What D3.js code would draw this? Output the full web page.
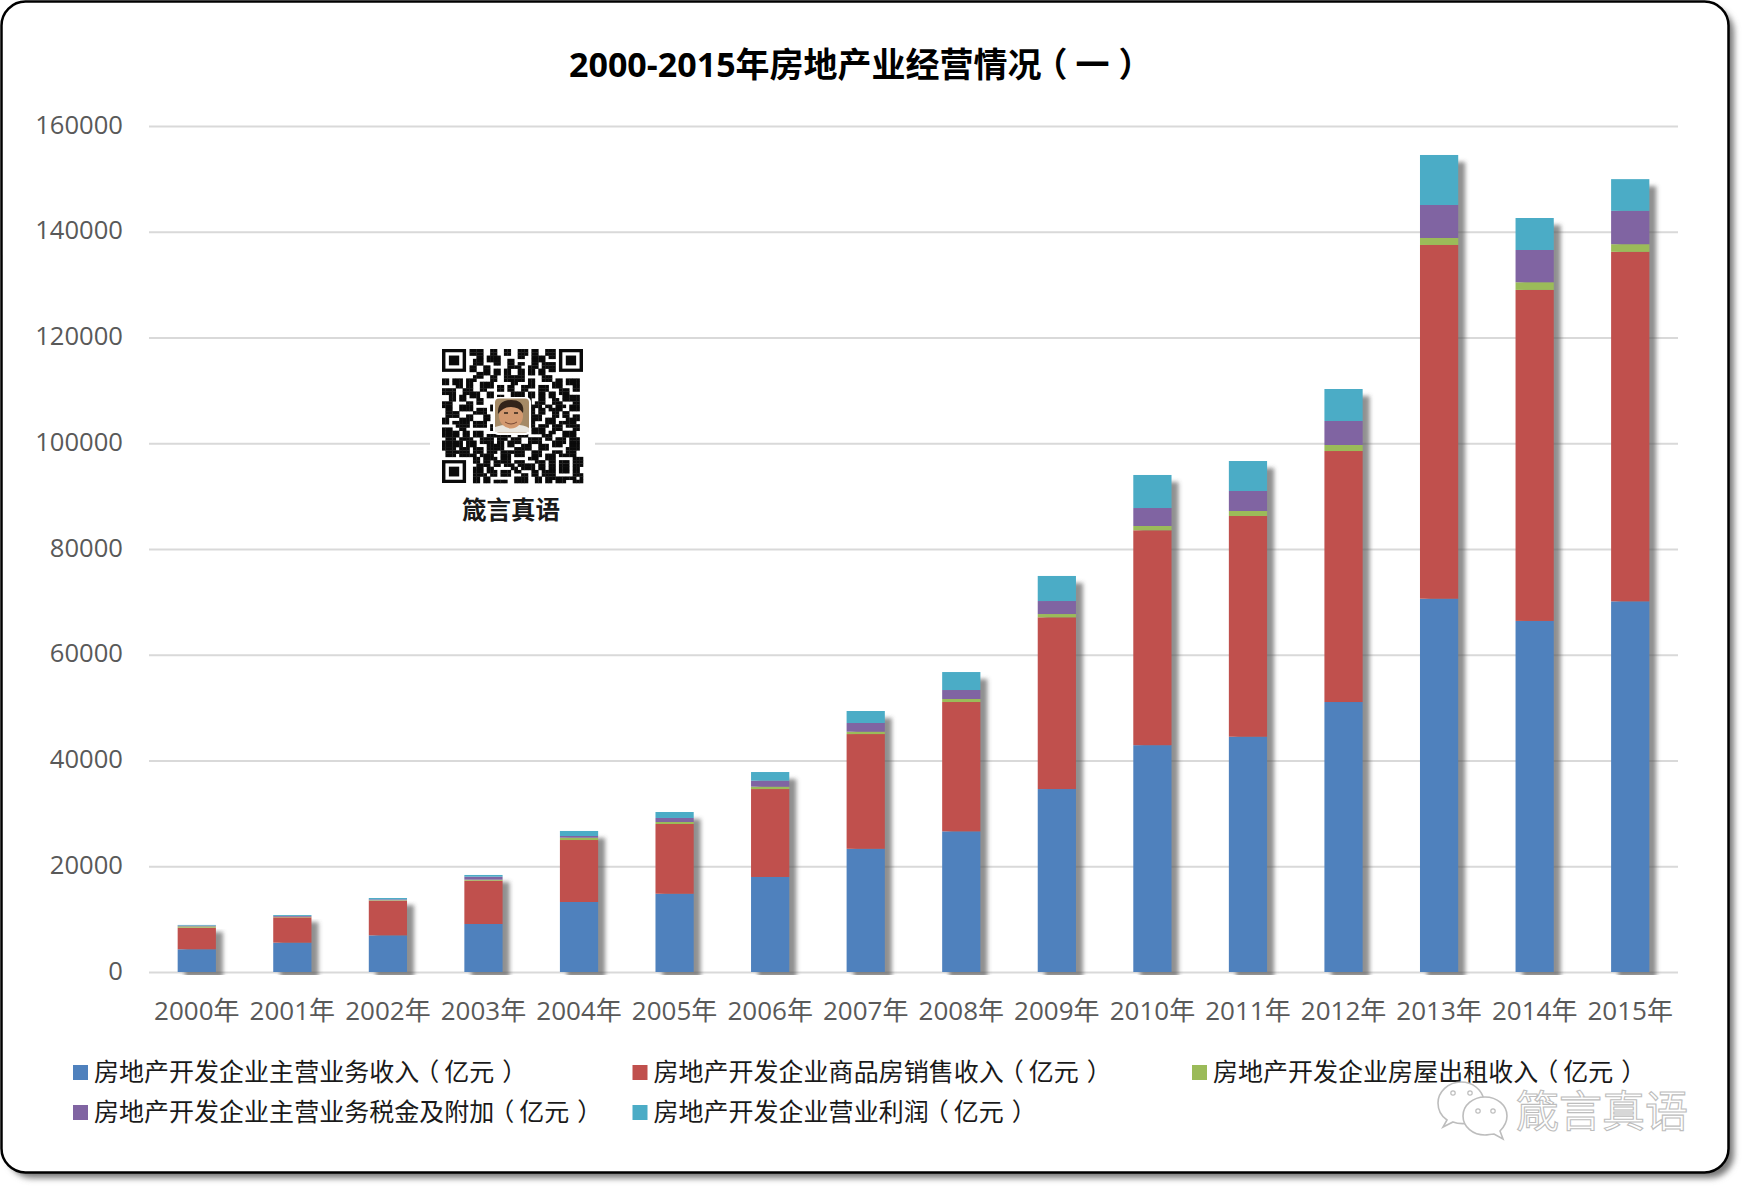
<!DOCTYPE html>
<html>
<head>
<meta charset="utf-8">
<script src="https://cdn.jsdelivr.net/npm/d3@7/dist/d3.min.js"></script>
<style>
  html, body { margin: 0; background: #fff; }
  svg { display: block; }
  text { font-family: "Open Sans", "Noto Sans CJK SC", sans-serif; }
</style>
</head>
<body>
<svg id="chart" width="1744" height="1188"></svg>
<script>
// values (亿元)
var years = ['2000年','2001年','2002年','2003年','2004年','2005年','2006年','2007年','2008年','2009年','2010年','2011年','2012年','2013年','2014年','2015年'];
var income = [4300,5550,6930,9080,13240,14800,17970,23300,26600,34600,42900,44500,51060,70600,66400,70100];
var sales = [4080,4790,6560,8190,11720,13190,16630,21700,24460,32480,40640,41740,47470,66900,62600,66100];
var rent = [250,100,100,190,440,380,450,450,570,620,810,950,1140,1320,1450,1450];
var tax = [150,170,150,570,320,760,1130,1640,1700,2460,3400,3780,4540,6240,6100,6300];
var profit = [120,170,250,320,950,1130,1640,2270,3400,4740,6250,5670,6050,9460,6050,6000];
var yTicks = [0,20000,40000,60000,80000,100000,120000,140000,160000];

var seriesNames = ['房地产开发企业主营业务收入（亿元）','房地产开发企业商品房销售收入（亿元）','房地产开发企业房屋出租收入（亿元）','房地产开发企业主营业务税金及附加（亿元）','房地产开发企业营业利润（亿元）'];
var seriesColors = ['#4f81bd','#c0504d','#9bbb59','#8064a2','#4bacc6'];
var seriesValues = [income, sales, rent, tax, profit];

var title = '2000-2015年房地产业经营情况（一）';
var qrCaption = '箴言真语';

// rough copy of the code in the picture, finders are drawn separately
var qrRows = [
  '........####..##..##..###.##..###........',
  '........####..##..##..###.##..###........',
  '..........##.####.....##..####.##........',
  '.........###.####..##.....####...........',
  '.........###...##..##.##..##.####........',
  '........##..##.....####..###.####........',
  '........##..##.##.##..##.##.##.##........',
  '..........####.##.##..##.##.##...........',
  '.........###..##..######.....###.........',
  '##.###.###....##..######.##..###.##.####.',
  '##.###.##..####.....##...##.....###.####.',
  '....##.##..####.##.##..####.###.###...##.',
  '####..###..##...##.##..##...###...###.##.',
  '####..#####..##.....####.##.##.##.###....',
  '..##.##.###..##.##..####.##.##.##..#####.',
  '..##.##...##...........###..##..##.#####.',
  '###....##.##...........###.###..###...##.',
  '###..####.....##.........####.##.###.###.',
  '.##..####.###.##.........##.##.####..###.',
  '.####....####............##.##..##.##....',
  '.####..##...##...........####...##.##.##.',
  '##...####...##...........####.###...####.',
  '##.#####.####............##...###.#####..',
  '....####.####.##.........##.###.###.####.',
  '###..##.......##..........####..###...##.',
  '#####.##.###.....####.###.####.##..####..',
  '#####.##.###.#######..###....###...####..',
  '.###.####..####.###.###..####.##.###.###.',
  '######.###.####.##.####..####...####.###.',
  '######.###...#####.##..###..###.###..###.',
  '####.###.###.#####...#####..###.....####.',
  '.#######.###.###.#######..###...###.###..',
  '.###.#####.####..###.###..###.###.#####..',
  '.........##.####.###.....###..###.....###',
  '.........##.##.#####.###...###.##.###.###',
  '..........####.##.###.#####.##.##.###.###',
  '.........###.##.....##.####.##.##.###.##.',
  '.........###.###.###.##...##.####.###.##.',
  '.........####.##.###...##.##.####.....###',
  '.........##.##.......####..##.#########.#',
  '.........##.##.####..####..##.##.###..###'
];

var svg = d3.select('#chart');
var defs = svg.append('defs');

defs.append('filter').attr('id', 'cardShadow')
    .attr('x', '-2%').attr('y', '-2%').attr('width', '104%').attr('height', '104%')
    .append('feGaussianBlur').attr('stdDeviation', 3);
defs.append('filter').attr('id', 'barShadow')
    .attr('x', '-40%').attr('y', '-5%').attr('width', '180%').attr('height', '110%')
    .append('feGaussianBlur').attr('stdDeviation', 2);
defs.append('clipPath').attr('id', 'plotClip')
    .append('rect').attr('x', 0).attr('y', 0).attr('width', 1744).attr('height', 975);

// card
svg.append('rect')
    .attr('x', 8).attr('y', 8).attr('width', 1726).attr('height', 1170).attr('rx', 24)
    .attr('fill', '#777').attr('filter', 'url(#cardShadow)');
svg.append('rect')
    .attr('x', 1.5).attr('y', 1.5).attr('width', 1727).attr('height', 1171).attr('rx', 24)
    .attr('fill', '#fff').attr('stroke', '#000').attr('stroke-width', 2.5);

// fullwidth parens sit more centred in the original font, per character dx nudges them
function parenDx(str, shift, gap) {
    var open = str.lastIndexOf('（'), close = str.lastIndexOf('）');
    return str.split('').map(function(ch, i) {
        if (i == open) return -shift;
        if (i == open + 1) return shift;
        if (i == close) return gap;
        return 0;
    }).join(' ');
}

svg.append('text')
    .attr('x', 569).attr('y', 77)
    .attr('dx', parenDx(title, 8, 9))
    .attr('font-size', 34).attr('font-weight', 700).attr('fill', '#000')
    .text(title);

var margin = {top: 126, right: 1678, bottom: 972, left: 149};

var x = d3.scaleBand()
    .domain(years)
    .range([margin.left, margin.right])
    .paddingInner(0.6)
    .paddingOuter(0.3);

var y = d3.scaleLinear()
    .domain([0, 160000])
    .range([margin.bottom, margin.top]);

// gridlines and value labels
var yAxis = svg.append('g')
    .attr('transform', 'translate(' + margin.left + ',0)')
    .call(d3.axisLeft(y).tickValues(yTicks).tickFormat(d3.format('d')).tickSize(-(margin.right - margin.left)).tickPadding(26));
yAxis.select('.domain').remove();
yAxis.selectAll('line').attr('stroke', '#d9d9d9').attr('stroke-width', 2);
yAxis.selectAll('text')
    .attr('font-size', 25.6).attr('fill', '#595959')
    .attr('dy', '0.28em');

var xAxis = svg.append('g')
    .attr('transform', 'translate(0,' + margin.bottom + ')')
    .call(d3.axisBottom(x).tickSize(0).tickPadding(30));
xAxis.select('.domain').remove();
xAxis.selectAll('text')
    .attr('font-size', 26).attr('fill', '#595959');

// stacked bars
var rows = years.map(function(year, i) {
    var row = {year: year};
    seriesNames.forEach(function(name, s) { row[name] = seriesValues[s][i]; });
    return row;
});
var stacked = d3.stack().keys(seriesNames)(rows);

// shadow goes under the bars but above the gridlines
svg.append('g')
    .attr('clip-path', 'url(#plotClip)')
    .selectAll('rect')
    .data(rows)
    .join('rect')
    .attr('x', function(d) { return x(d.year) + 7; })
    .attr('y', function(d, i) { return y(stacked[4][i][1]) + 7; })
    .attr('width', x.bandwidth())
    .attr('height', function(d, i) { return y(0) - y(stacked[4][i][1]); })
    .attr('fill', '#555')
    .attr('fill-opacity', 0.65)
    .attr('filter', 'url(#barShadow)');

svg.append('g')
    .selectAll('g')
    .data(stacked)
    .join('g')
    .attr('fill', function(d, i) { return seriesColors[i]; })
    .selectAll('rect')
    .data(function(d) { return d; })
    .join('rect')
    .attr('x', function(d) { return x(d.data.year); })
    .attr('y', function(d) { return y(d[1]); })
    .attr('width', x.bandwidth())
    .attr('height', function(d) { return y(d[0]) - y(d[1]); });

// legend
var legendSpots = [[73,1080.5],[632.5,1080.5],[1192,1080.5],[73,1120.5],[632.5,1120.5]];
var legend = svg.append('g').selectAll('g')
    .data(seriesNames)
    .join('g')
    .attr('transform', function(d, i) { return 'translate(' + legendSpots[i][0] + ',' + legendSpots[i][1] + ')'; });
legend.append('rect')
    .attr('x', 0).attr('y', -15.5).attr('width', 15).attr('height', 15)
    .attr('fill', function(d, i) { return seriesColors[i]; });
legend.append('text')
    .attr('x', 21).attr('y', 0)
    .attr('dx', function(d) { return parenDx(d, 5, 8); })
    .attr('font-size', 25).attr('fill', '#1a1a1a')
    .text(function(d) { return d; });

// QR badge, white box cuts the gridline
var qr = svg.append('g');
qr.append('rect').attr('x', 430).attr('y', 340).attr('width', 165).attr('height', 190).attr('fill', '#fff');

var qrX = d3.scaleBand().domain(d3.range(41)).range([442, 583]);
var qrY = d3.scaleBand().domain(d3.range(41)).range([349, 483]);

function inFinder(r, c) {
    return (r < 8 && c < 8) || (r < 8 && c > 32) || (r > 32 && c < 8);
}
var qrCells = [];
qrRows.forEach(function(row, r) {
    row.split('').forEach(function(ch, c) {
        if (ch == '#' && c < 41 && !inFinder(r, c)) qrCells.push({r: r, c: c});
    });
});
qr.append('g').selectAll('rect')
    .data(qrCells)
    .join('rect')
    .attr('x', function(d) { return qrX(d.c); })
    .attr('y', function(d) { return qrY(d.r); })
    .attr('width', qrX.bandwidth() + 0.3)
    .attr('height', qrY.bandwidth() + 0.3)
    .attr('fill', '#0a0a0a');

[[0,0],[0,34],[34,0]].forEach(function(f) {
    var fx = qrX(f[1]), fy = qrY(f[0]), mw = qrX.bandwidth(), mh = qrY.bandwidth();
    qr.append('rect').attr('x', fx).attr('y', fy).attr('width', mw * 7).attr('height', mh * 7).attr('fill', '#0a0a0a');
    qr.append('rect').attr('x', fx + mw).attr('y', fy + mh).attr('width', mw * 5).attr('height', mh * 5).attr('fill', '#fff');
    qr.append('rect').attr('x', fx + mw * 2).attr('y', fy + mh * 2).attr('width', mw * 3).attr('height', mh * 3).attr('fill', '#0a0a0a');
});

// the little portrait in the middle of the code
var face = qr.append('g').attr('transform', 'translate(512,416)');
face.append('rect').attr('x', -19).attr('y', -19).attr('width', 38).attr('height', 38).attr('rx', 5).attr('fill', '#fff');
face.append('rect').attr('x', -17).attr('y', -17.5).attr('width', 34).attr('height', 34).attr('rx', 4).attr('fill', '#a58a66');
face.append('path').attr('d', 'M-17,16 L-17,11 Q-8,8 0,9 Q10,8 17,12 L17,16 Z').attr('fill', '#e9e6df');
face.append('ellipse').attr('cx', -1).attr('cy', 0).attr('rx', 12).attr('ry', 12.5).attr('fill', '#d3996f');
face.append('path').attr('d', 'M-14,-2 Q-15,-16 -1,-16 Q13,-16 11,-3 Q7,-9 -1,-9 Q-9,-9 -14,-2 Z').attr('fill', '#33241a');
face.append('path').attr('d', 'M-7,6 Q-1,10 5,6').attr('fill', 'none').attr('stroke', '#7a4a35').attr('stroke-width', 1);
face.append('path').attr('d', 'M-8,-3 L-4,-3 M2,-3 L6,-3').attr('stroke', '#33241a').attr('stroke-width', 1.4);

qr.append('text')
    .attr('x', 511).attr('y', 519)
    .attr('text-anchor', 'middle')
    .attr('font-size', 24.5).attr('font-weight', 700).attr('fill', '#1a1a1a')
    .text(qrCaption);

// watermark bottom right
var mark = svg.append('g').attr('fill', '#fff').attr('stroke', '#bdbdbd').attr('stroke-width', 1.6);
mark.append('path').attr('d', 'M1461,1082 C1448,1082 1438,1092 1438,1103 C1438,1110 1441,1116 1447,1120 L1443,1127 L1453,1122 C1458,1124 1464,1124 1470,1123 L1484,1100 C1482,1090 1473,1082 1461,1082 Z');
mark.append('path').attr('d', 'M1485,1097 C1473,1097 1463,1105 1463,1116 C1463,1127 1473,1135 1485,1135 C1488,1135 1491,1134 1494,1134 L1503,1139 L1500,1131 C1504,1127 1507,1122 1507,1116 C1507,1105 1497,1097 1485,1097 Z');
mark.selectAll('circle')
    .data([[1453,1093],[1470,1093],[1478,1111],[1493,1111]])
    .join('circle')
    .attr('cx', function(d) { return d[0]; })
    .attr('cy', function(d) { return d[1]; })
    .attr('r', 2.2)
    .attr('stroke-width', 1.2);
mark.append('text')
    .attr('x', 1516).attr('y', 1127)
    .attr('font-size', 43)
    .attr('stroke-width', 1.1)
    .attr('fill', '#fff')
    .text(qrCaption);
</script>
</body>
</html>
